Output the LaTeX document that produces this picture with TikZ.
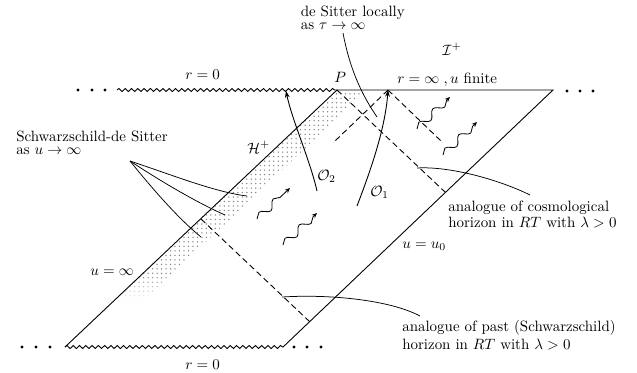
\documentclass[tikz,border=0pt]{standalone}
\usepackage{amsmath,amssymb}
\usetikzlibrary{arrows.meta,calc,decorations.pathmorphing,patterns,fadings}
\tikzset{
  bdry/.style={line width=0.6pt},
  sing/.style={line width=0.6pt, decorate, decoration={snake, amplitude=1pt, segment length=4.2pt}},
  hor/.style={line width=0.6pt, dash pattern=on 4pt off 2.4pt},
  ray/.style={-{Stealth[length=3.5pt, width=3pt]}, line width=0.55pt, decorate,
    decoration={snake, amplitude=2.4pt, segment length=13pt, post length=3pt}},
  obs/.style={-{Stealth[length=4.5pt, width=3.2pt]}, line width=0.6pt},
  ptr/.style={line width=0.5pt},
  lbl/.style={inner sep=0pt, anchor=base west},
  note/.style={font=\fontsize{10}{8.5}\selectfont, align=left, inner sep=0pt, anchor=north west},
  pt/.style={circle, fill, inner sep=0pt, minimum size=2.2pt},
  strip/.style={pattern=dots, pattern color=gray},
}
\tikzfading[name=stripfade, top color=transparent!0, bottom color=transparent!100]

\begin{document}
\begin{tikzpicture}[x=0.0235cm, y=-0.0235cm]
  \useasboundingbox (0,0) rectangle (637,372);
  % corners of the region
  \coordinate (P) at (337,90);
  \coordinate (TR) at (553,90);
  \coordinate (BL) at (65,347);
  \coordinate (BR) at (283,347);
  \coordinate (Q) at (388,90);
  \coordinate (C) at (445,192);
  \coordinate (D) at (201,219);
  \coordinate (E) at (310,322);
  % dotted strip along H+
  \fill[strip] (P) -- (367,90) -- (172,274) -- (142,274) -- cycle;
  \fill[strip, path fading=stripfade] (142,274) -- (172,274) -- (144,301) -- (114,301) -- cycle;
  % r = 0
  \draw[sing] (117,90) -- (P);
  \draw[sing] (BL) -- (BR);
  % boundaries
  \draw[bdry] (BL) -- (P) -- (TR) -- (BR);
  % horizons and light cone
  \draw[hor] (P) -- (C);
  \draw[hor] (D) -- (E);
  \draw[hor] (Q) -- (335,141);
  \draw[hor] (Q) -- (441,141);
  % outgoing rays
  \draw[ray] (257,219) -- (290,188);
  \draw[ray] (283,245) -- (317,213);
  \draw[ray] (417,129) -- (450,97);
  \draw[ray] (443,155) -- (477,122);
  % observers
  \draw[obs] (317,191) .. controls (310,160) and (292,120) .. (286,91);
  \draw[obs] (357,206) .. controls (370,172) and (385,130) .. (Q);
  % dots
  \foreach \x [count=\i] in {78,92,105} \node[pt] (tl\i) at (\x,90) {};
  \foreach \x [count=\i] in {567,580,593} \node[pt] (tr\i) at (\x,91) {};
  \foreach \x [count=\i] in {22,36,50} \node[pt] (bl\i) at (\x,347) {};
  \foreach \x [count=\i] in {294,307,321} \node[pt] (br\i) at (\x,347) {};
  % labels
  \node[lbl] (rtop) at (185,79) {$r=0$};
  \node[lbl] (rbot) at (185,369) {$r=0$};
  \node[lbl] (p) at (334,82) {$P$};
  \node[lbl] (scri) at (442,55) {$\mathcal{I}^+$};
  \node[lbl] (rinf) at (397,83) {$r=\infty\;,u$ finite};
  \node[lbl] (hplus) at (247,153) {$\mathcal{H}^+$};
  \node[lbl] (o2) at (317,180) {$\mathcal{O}_2$};
  \node[lbl] (o1) at (370,196) {$\mathcal{O}_1$};
  \node[lbl] (uinf) at (90,275) {$u=\infty$};
  \node[lbl] (uzero) at (402,248) {$u=u_0$};
  % notes
  \node[note] (ds) at (300.5,5.5) {de Sitter locally\\as $\tau\to\infty$};
  \node[note] (sds) at (16,131) {Schwarzschild-de Sitter\\as $u\to\infty$};
  \node[note] (cosmo) at (448,200.5) {analogue of cosmological\\[0.8pt]horizon in $RT$ with $\lambda>0$};
  \node[note] (past) at (402,319.5) {analogue of past (Schwarzschild)\\[2.2pt]horizon in $RT$ with $\lambda>0$};
  % pointers
  \coordinate (dsend) at (377,117);
  \draw[ptr] ($(ds.north west)+(42.5,27.5)$) .. controls (350,70) and (362,95) .. (dsend);
  \coordinate (sdsfoot) at ($(sds.north west)+(114,30)$);
  \coordinate (sds1) at (247,196);
  \coordinate (sds2) at (225,215);
  \coordinate (sds3) at (201,237);
  \draw[ptr] (sdsfoot) .. controls (175,176) and (215,192) .. (sds1);
  \draw[ptr] (sdsfoot) .. controls (165,184) and (200,204) .. (sds2);
  \draw[ptr] (sdsfoot) .. controls (155,192) and (180,220) .. (sds3);
  \coordinate (cosmofoot) at (417,168);
  \draw[ptr] (cosmofoot) .. controls (450,166) and (500,180) .. ($(cosmo.north west)+(82,-5.5)$);
  \coordinate (pastfoot) at (282,297);
  \draw[ptr] (pastfoot) .. controls (330,294) and (390,300) .. ($(past.north west)+(18,-3.5)$);
\end{tikzpicture}
\end{document}
